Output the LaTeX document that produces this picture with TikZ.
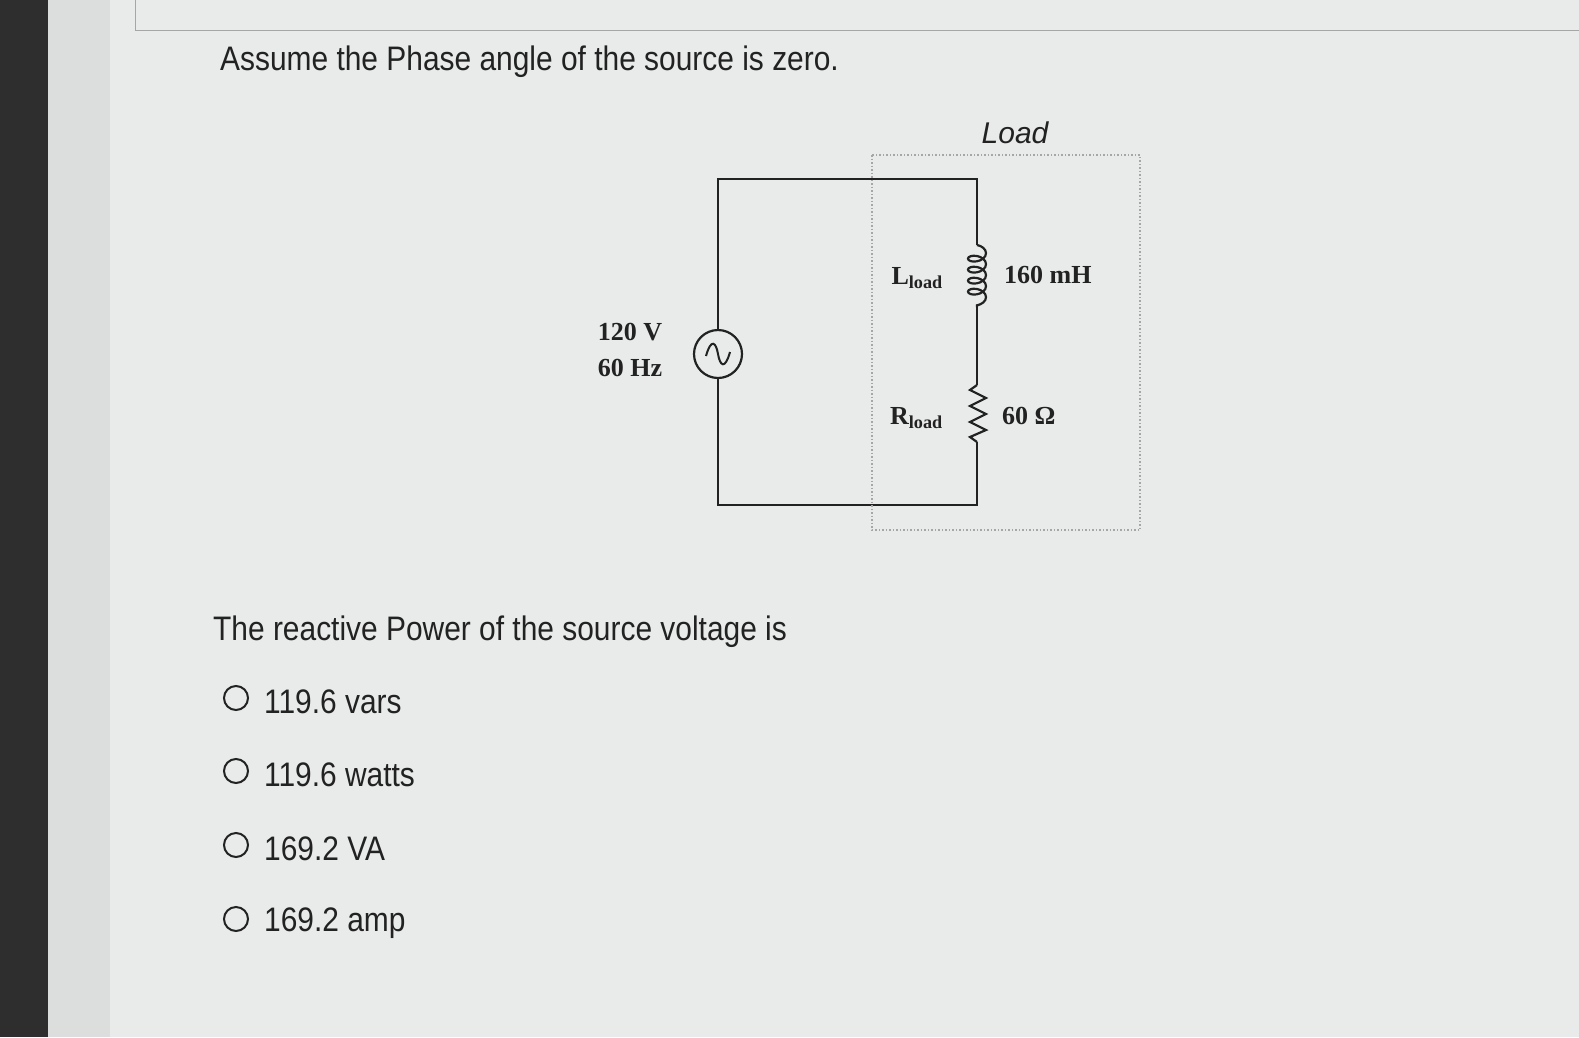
\documentclass[tikz,border=0pt]{standalone}
\usepackage{fontspec}
\setmainfont{Liberation Sans}
\newfontfamily\serifx{Liberation Serif}
\usetikzlibrary{decorations.pathmorphing}
\definecolor{panel}{HTML}{E9EAEA}
\definecolor{edge}{HTML}{DCDDDD}
\definecolor{darkstrip}{HTML}{2E2E2E}
\definecolor{ink}{HTML}{222222}
\tikzset{
 big/.style={font=\fontsize{34}{40}\selectfont, text=ink, inner sep=0pt, anchor=west, xscale=0.88},
 ckt/.style={font=\serifx\bfseries\fontsize{26}{30}\selectfont, text=ink, inner sep=0pt},
 wire/.style={draw=ink, line width=2.2pt},
 radio/.style={circle, draw=ink, line width=2pt, minimum size=24pt, inner sep=0pt}
}
\begin{document}
\begin{tikzpicture}[x=1pt,y=-1pt]
\useasboundingbox (0,0) rectangle (1579,1037);
\fill[edge] (0,0) rectangle (1579,1037);
\fill[panel] (110,0) rectangle (1579,1037);
\fill[darkstrip] (0,0) rectangle (48,1037);
\draw[gray!70, line width=1pt] (135,0) -- (135,30) -- (1579,30);
\node[big] (title) at (220,62) {Assume the Phase angle of the source is zero.};
% circuit
\coordinate (tl) at (718,179); \coordinate (tr) at (977,179);
\coordinate (bl) at (718,505); \coordinate (br) at (977,505);
\coordinate (l1) at (977,245); \coordinate (l2) at (977,307);
\coordinate (r1) at (977,385); \coordinate (r2) at (977,442);
\node[circle, draw=ink, line width=2.2pt, minimum size=48pt, inner sep=0pt] (src) at (718,354) {};
\draw[ink, line width=2pt] (706,356) .. controls (711,338) and (716,342) .. (718,354) .. controls (720,366) and (725,370) .. (730,352);
\draw[wire] (src.north) -- (tl) -- (tr) -- (l1);
\draw[wire] (l2) -- (r1);
\draw[wire] (r2) -- (br) -- (bl) -- (src.south);
\draw[wire, decoration={coil, aspect=0.6, segment length=11pt, amplitude=9pt}, decorate] (l1) -- (l2);
\draw[wire] (r1) -- (970,390) -- (986,398) -- (970,406) -- (986,414) -- (970,422) -- (986,430) -- (970,437) -- (r2);
\node[ckt] (v) at (630,332) {120 V};
\node[ckt] (hz) at (630,368) {60 Hz};
\node[ckt, anchor=east] (ll) at (943,278) {L\textsubscript{load}};
\node[ckt, anchor=east] (rl) at (943,418) {R\textsubscript{load}};
\node[ckt, anchor=west] (lv) at (1004,275) {160 mH};
\node[ckt, anchor=west] (rv) at (1002,416) {60 Ω};
\draw[gray!70, line width=1.5pt, dotted] (872,155) rectangle (1140,530);
\node[font=\itshape\fontsize{30}{34}\selectfont, text=ink, inner sep=0pt] (load) at (1015,133) {Load};
% question
\node[big] (q) at (213,632) {The reactive Power of the source voltage is};
\foreach \y/\t [count=\i] in {698/119.6 vars, 771/119.6 watts, 845/169.2 VA, 919/169.2 amp}{
 \node[radio] (o\i) at (236,\y) {};
 \node[big] (t\i) at (264,\y+4) {\t};
}
\end{tikzpicture}
\end{document}
